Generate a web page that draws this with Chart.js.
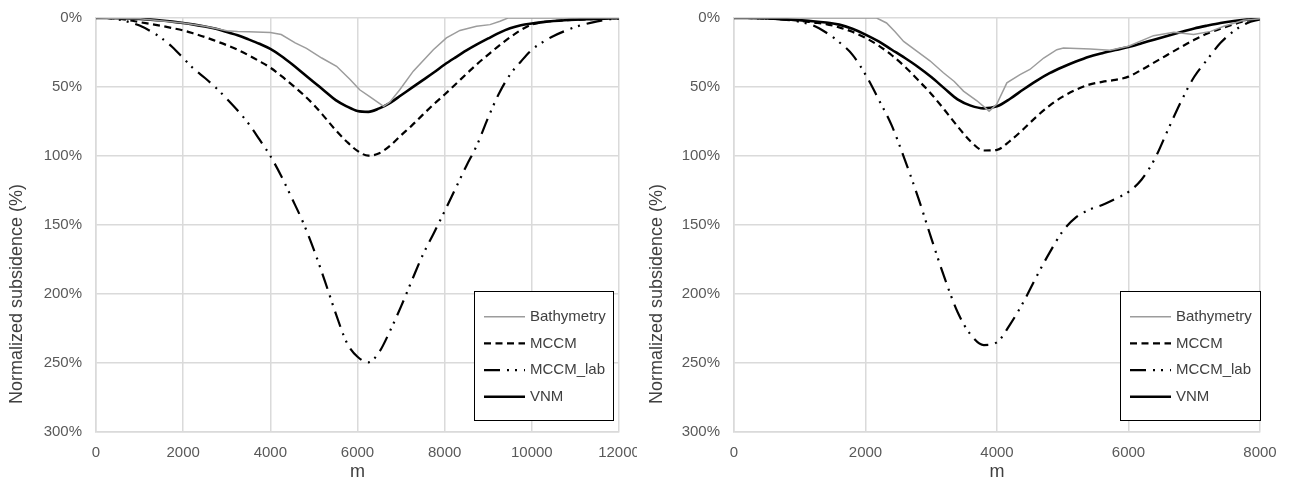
<!DOCTYPE html>
<html>
<head>
<meta charset="utf-8">
<script src="https://cdn.jsdelivr.net/npm/chart.js@4.4.0/dist/chart.umd.min.js"></script>
<style>
  body { margin: 0; background: #fff; width: 1290px; height: 483px; position: relative; overflow: hidden; }
  canvas { position: absolute; top: 0; }
  #leftChart { left: 0; }
  #rightChart { left: 645px; }
</style>
</head>
<body>
<canvas id="leftChart" width="637" height="483"></canvas>
<canvas id="rightChart" width="645" height="483"></canvas>
<script>
// ---- profile 1 (0 - 12000 m) ----
const distLeft = [0, 250, 500, 750, 1000, 1250, 1500, 1750, 2000, 2250, 2500, 2750, 3000, 3250, 3500, 3750,
  4000, 4250, 4500, 4750, 5000, 5250, 5500, 5750, 6000, 6250, 6500, 6750, 7000, 7250, 7500, 7750,
  8000, 8250, 8500, 8750, 9000, 9250, 9500, 9750, 10000, 10250, 10500, 10750, 11000, 11250, 11500, 11750, 12000];
const mccmLeft = [0, 0, 0.4, 1.5, 3, 4.3, 5.7, 7.3, 9, 11.3, 13.8, 16.7, 19.7, 23, 27, 31.3,
  36, 42, 48.5, 55.3, 63, 72, 81.3, 89.5, 96.3, 99.8, 98, 92.5, 85, 77.8, 70, 62.5,
  55.4, 48, 40.5, 33.2, 26.5, 20, 14, 8.7, 4.8, 3, 2.2, 1.7, 1.3, 0.9, 0.5, 0.2, 0];
const mccmLabLeft = [0, 0, 1, 2.8, 5.5, 9.5, 14.5, 21, 29, 37, 43.5, 50.5, 58.5, 67, 76.5, 88,
  100, 114.5, 131, 148, 168, 190.5, 214, 235, 245.5, 249.5, 242, 226.5, 209, 190, 171.5, 156,
  140, 123.5, 107, 91.5, 72, 54.5, 41, 31.5, 23, 17.5, 13, 9.5, 6.5, 4.2, 2.4, 1, 0.3];
const vnmLeft = [0, 0, 0.1, 0.3, 0.7, 1.2, 1.8, 2.6, 3.6, 4.8, 6.2, 7.8, 10.2, 12.5, 15.5, 18.7,
  22.4, 27.5, 33.5, 40, 46.5, 53, 59.5, 64, 67.4, 68, 65.5, 61.5, 56, 50.5, 45, 39.5,
  33.7, 28.5, 23.5, 19, 14.8, 10.8, 7.5, 5.3, 4, 3, 2.2, 1.6, 1.2, 0.9, 0.6, 0.4, 0.2];
const bathyDistLeft = [0, 1000, 2000, 2500, 3000, 3250, 3500, 4000, 4250, 4570, 4830, 5180, 5520, 5830, 6050,
  6280, 6600, 6740, 6970, 7280, 7740, 8040, 8350, 8730, 9040, 9270, 9450, 10000, 11000, 12000];
const bathyLeft = [0, 0.5, 3.6, 6, 9.2, 9.8, 10, 10.5, 12, 18, 22, 29, 35, 44.5, 52,
  57, 64, 61, 52, 38.5, 23, 14.4, 9, 6, 4.8, 2.4, 0, 0, 0, 0];

// ---- profile 2 (0 - 8000 m) ----
const distRight = [0, 200, 400, 600, 800, 1000, 1200, 1400, 1600, 1800, 2000, 2200, 2400, 2600, 2800,
  3000, 3200, 3400, 3600, 3800, 4000, 4200, 4400, 4600, 4800, 5000, 5200, 5400, 5600, 5800,
  6000, 6200, 6400, 6600, 6800, 7000, 7200, 7400, 7600, 7800, 8000];
const mccmRight = [0, 0, 0.2, 0.6, 1.2, 2, 3.2, 4.4, 6.8, 10, 14.4, 20, 27, 35.3, 45,
  55, 66.5, 78.5, 89.5, 96, 95.5, 89, 80.6, 71.5, 63.5, 57, 52, 48.3, 46.3, 44.8,
  42.5, 37.5, 32, 26.5, 21, 15.8, 11.3, 7.8, 4.5, 2, 0.5];
const mccmLabRight = [0, 0, 0.2, 0.6, 1.3, 2.8, 5.3, 10.5, 17.5, 26.5, 41, 59, 78, 103, 130,
  159.5, 188, 213, 229.5, 237, 235, 222, 206, 187.5, 170, 154.5, 144.5, 139, 135.5, 131,
  126, 117, 102, 81, 60.4, 42.6, 30, 18, 9.5, 3.8, 1];
const vnmRight = [0, 0, 0.2, 0.5, 1, 1.6, 2.3, 3.3, 4.8, 7.8, 12, 17, 23, 29, 35.5,
  42.8, 51, 59, 63.5, 65.5, 64, 58.5, 51.8, 45.5, 40, 35.5, 31.5, 28, 25.5, 23.2,
  21, 18.3, 15.5, 12.8, 10.2, 7.6, 5.5, 3.6, 2.2, 1.2, 0.5];
const bathyDistRight = [0, 1000, 2000, 2170, 2320, 2450, 2580, 2780, 2980, 3185, 3350, 3490, 3695, 3880, 3995,
  4150, 4350, 4500, 4710, 4910, 5010, 5420, 5720, 6000, 6380, 6690, 6990, 7250, 7450, 7750, 8000];
const bathyRight = [0, 0, 0, 0, 3.6, 10, 17, 24, 31, 39.7, 46, 53, 60, 67.5, 62.6,
  47, 41, 37.3, 29, 23, 21.7, 22.4, 23.4, 20.5, 12.8, 10.4, 12, 9.7, 6, 1.7, 0.5];

const yTicks = [0, 50, 100, 150, 200, 250, 300];
const seriesNames = ["Bathymetry", "MCCM", "MCCM_lab", "VNM"];

const FONT = '"Liberation Sans", Arial, sans-serif';
Chart.defaults.font.family = FONT;
Chart.defaults.font.size = 15;
Chart.defaults.color = "#595959";

const toPoints = (xs, ys) => xs.map((x, i) => ({ x: x, y: ys[i] }));

// legend drawn inside the plot, with a white box and black frame
const legendBox = {
  id: "legendBox",
  afterDatasetsDraw(chart, args, opts) {
    const { ctx } = chart;
    ctx.save();
    ctx.fillStyle = "#fff";
    ctx.fillRect(opts.x, opts.y, opts.w, opts.h);
    ctx.strokeStyle = "#000";
    ctx.lineWidth = 1;
    ctx.setLineDash([]);
    ctx.strokeRect(opts.x + 0.5, opts.y + 0.5, opts.w, opts.h);
    chart.data.datasets.forEach((ds, i) => {
      const ly = opts.y + 25.7 + i * 26.7;
      ctx.beginPath();
      ctx.strokeStyle = ds.borderColor;
      ctx.lineWidth = ds.borderWidth;
      ctx.setLineDash(ds.borderDash || []);
      ctx.moveTo(opts.x + 10, ly);
      ctx.lineTo(opts.x + 51, ly);
      ctx.stroke();
      ctx.setLineDash([]);
      ctx.fillStyle = "#404040";
      ctx.font = "15px " + FONT;
      ctx.textBaseline = "middle";
      ctx.textAlign = "left";
      ctx.fillText(ds.label, opts.x + 56, ly);
    });
    ctx.restore();
  }
};

// rotated y axis title
const sideTitle = {
  id: "sideTitle",
  afterDraw(chart, args, opts) {
    const { ctx } = chart;
    ctx.save();
    ctx.translate(opts.x, opts.y);
    ctx.rotate(-Math.PI / 2);
    ctx.font = "18px " + FONT;
    ctx.fillStyle = "#404040";
    ctx.textAlign = "center";
    ctx.textBaseline = "middle";
    ctx.fillText(opts.text, 0, 0);
    ctx.restore();
  }
};

function makeChart(id, s) {
  const ctx = document.getElementById(id).getContext("2d");
  const grid = { color: "#dadada", lineWidth: 1.5, drawTicks: false };
  return new Chart(ctx, {
    type: "line",
    data: {
      datasets: [
        {
          label: seriesNames[0],
          data: toPoints(s.bathyX, s.bathy),
          borderColor: "#9c9c9c",
          borderWidth: 1.5,
          tension: 0
        },
        {
          label: seriesNames[1],
          data: toPoints(s.x, s.mccm),
          borderColor: "#000",
          borderWidth: 2.2,
          borderDash: [7, 4.5],
          cubicInterpolationMode: "monotone"
        },
        {
          label: seriesNames[2],
          data: toPoints(s.x, s.mccmLab),
          borderColor: "#000",
          borderWidth: 2.2,
          borderDash: [16, 7, 2, 6, 2, 7],
          cubicInterpolationMode: "monotone"
        },
        {
          label: seriesNames[3],
          data: toPoints(s.x, s.vnm),
          borderColor: "#000",
          borderWidth: 2.6,
          cubicInterpolationMode: "monotone"
        }
      ]
    },
    options: {
      responsive: false,
      animation: false,
      devicePixelRatio: 1,
      layout: { padding: { left: 0, top: 18, right: s.rightPad, bottom: 0 } },
      elements: { point: { radius: 0 } },
      plugins: {
        legend: { display: false },
        tooltip: { enabled: false },
        legendBox: s.legend,
        sideTitle: { text: "Normalized subsidence (%)", x: s.titleX, y: 294 }
      },
      scales: {
        x: {
          type: "linear",
          min: 0,
          max: s.maxX,
          grid: grid,
          border: { color: "#dadada", width: 1.5 },
          ticks: { stepSize: 2000, padding: 12, callback: v => String(v) },
          title: { display: true, text: "m", font: { size: 18 }, color: "#404040", padding: 0 },
          afterFit: sc => { sc.height = 51; sc.paddingLeft = 0; sc.paddingRight = 0; }
        },
        y: {
          min: 0,
          max: 300,
          reverse: true,
          grid: grid,
          border: { color: "#dadada", width: 1.5 },
          afterBuildTicks: sc => { sc.ticks = yTicks.map(v => ({ value: v })); },
          ticks: { padding: 14, callback: v => v + "%" },
          afterFit: sc => { sc.width = s.yWidth; sc.paddingTop = 0; sc.paddingBottom = 0; }
        }
      }
    },
    plugins: [legendBox, sideTitle]
  });
}

makeChart("leftChart", {
  x: distLeft, mccm: mccmLeft, mccmLab: mccmLabLeft, vnm: vnmLeft,
  bathyX: bathyDistLeft, bathy: bathyLeft,
  maxX: 12000, yWidth: 96, rightPad: 18, titleX: 17,
  legend: { x: 474, y: 291, w: 139, h: 129 }
});

makeChart("rightChart", {
  x: distRight, mccm: mccmRight, mccmLab: mccmLabRight, vnm: vnmRight,
  bathyX: bathyDistRight, bathy: bathyRight,
  maxX: 8000, yWidth: 89, rightPad: 30, titleX: 12,
  legend: { x: 475, y: 291, w: 140, h: 129 }
});
</script>
</body>
</html>
